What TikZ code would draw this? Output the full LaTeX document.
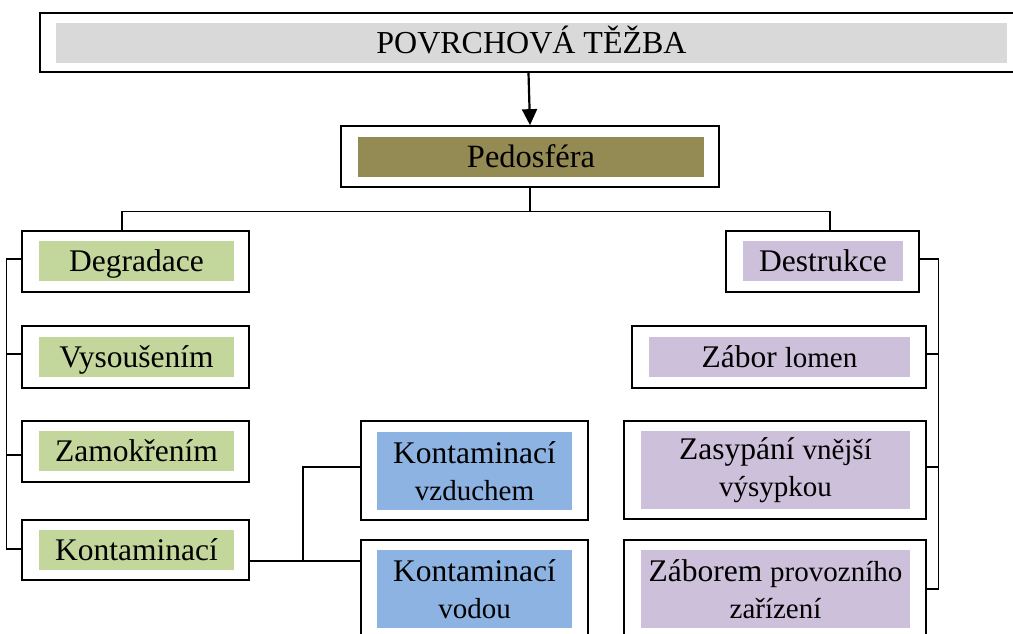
\documentclass[tikz,border=0pt]{standalone}
\usepackage{fontspec}
\setmainfont{Liberation Serif}
\usetikzlibrary{arrows.meta}

\definecolor{titlegray}{HTML}{D9D9D9}
\definecolor{soilolive}{HTML}{948A54}
\definecolor{degreen}{HTML}{C3D69B}
\definecolor{destlilac}{HTML}{CCC0DA}
\definecolor{contblue}{HTML}{8DB3E2}

\newcommand{\bigtxt}{\fontsize{31.5}{37}\selectfont}
\newcommand{\smalltxt}{\fontsize{29}{37}\selectfont}

\tikzset{
  x=1pt, y=-1pt,
  frame/.style={draw=black, line width=1.7pt, fill=white, inner sep=0pt},
  label box/.style={inner sep=0pt, align=center, font=\bigtxt, text=black},
  one line/.style={text height=24pt, text depth=4pt},
  link/.style={draw=black, line width=1.2pt},
}

\begin{document}
\begin{tikzpicture}
\clip (0,0) rectangle (1013,633);
\fill[white] (0,0) rectangle (1013,633);

% title
\node[frame, minimum width=982pt, minimum height=59pt] (top) at (531,42.5) {};
\node[label box, one line, fill=titlegray, minimum width=951pt, minimum height=40pt, font=\fontsize{32}{36}\selectfont] (top-in) at (531.5,43) {POVRCHOVÁ TĚŽBA};

% soil sphere
\node[frame, minimum width=378pt, minimum height=61pt] (ped) at (530,156.5) {};
\node[label box, one line, fill=soilolive, minimum width=346pt, minimum height=40pt, font=\fontsize{32.5}{37}\selectfont] (ped-in) at (531,157) {Pedosféra};

% degradation branch
\node[frame, minimum width=227pt, minimum height=61pt] (deg) at (135.5,261.5) {};
\node[label box, one line, fill=degreen, minimum width=195pt, minimum height=40pt] (deg-in) at (136.5,261) {Degradace};

\node[frame, minimum width=227pt, minimum height=62pt] (vys) at (135.5,357) {};
\node[label box, one line, fill=degreen, minimum width=195pt, minimum height=40pt] (vys-in) at (136.5,357) {Vysoušením};

\node[frame, minimum width=227pt, minimum height=61pt] (zam) at (135.5,451.5) {};
\node[label box, one line, fill=degreen, minimum width=195pt, minimum height=40pt] (zam-in) at (136.5,451) {Zamokřením};

\node[frame, minimum width=227pt, minimum height=60pt] (kon) at (135.5,550) {};
\node[label box, one line, fill=degreen, minimum width=195pt, minimum height=40pt] (kon-in) at (136.5,550) {Kontaminací};

% contamination types
\node[frame, minimum width=227pt, minimum height=99pt] (kvz) at (474.5,470.5) {};
\node[label box, fill=contblue, minimum width=195pt, minimum height=78pt] (kvz-in) at (474.5,471) {Kontaminací\\{\smalltxt vzduchem}};

\node[frame, minimum width=227pt, minimum height=98pt] (kvo) at (474.5,589) {};
\node[label box, fill=contblue, minimum width=195pt, minimum height=78pt] (kvo-in) at (474.5,589) {Kontaminací\\{\smalltxt vodou}};

% destruction branch
\node[frame, minimum width=193pt, minimum height=61pt] (des) at (822.5,261.5) {};
\node[label box, one line, fill=destlilac, minimum width=160pt, minimum height=40pt] (des-in) at (823,261) {Destrukce};

\node[frame, minimum width=294pt, minimum height=62pt] (zab) at (779,357) {};
\node[label box, one line, fill=destlilac, minimum width=261pt, minimum height=40pt] (zab-in) at (779.5,357) {Zábor {\smalltxt lomen}};

\node[frame, minimum width=302pt, minimum height=98pt] (zas) at (775,470) {};
\node[label box, fill=destlilac, minimum width=269pt, minimum height=78pt] (zas-in) at (775.5,470) {Zasypání {\smalltxt vnější}\\{\smalltxt výsypkou}};

\node[frame, minimum width=302pt, minimum height=98pt] (zpz) at (775,589) {};
\node[label box, fill=destlilac, minimum width=269pt, minimum height=78pt] (zpz-in) at (775.5,589) {Záborem {\smalltxt provozního}\\{\smalltxt zařízení}};

% title -> soil sphere
\draw[line width=2.2pt, -{Triangle[length=16pt,width=15pt]}] ([xshift=-2.5pt]top.south) -- (ped.north);

% soil sphere -> both branches
\draw[link] (ped.south) -- ++(0,24) coordinate (bus);
\draw[link] ([xshift=-13.5pt]deg.north) |- (bus) -| ([xshift=7.5pt]des.north);

% left rail
\draw[link] ([yshift=2.5pt]deg.west) -- ++(-15,0) coordinate (lb) |- ([yshift=1pt]kon.west);
\draw[link] ([yshift=3pt]vys.west) -- ++(-15,0);
\draw[link] ([yshift=-3.5pt]zam.west) -- ++(-15,0);

% contamination fork
\path ([yshift=-11pt]kon.east) -- ([yshift=28pt]kvo.west) coordinate[pos=0.482] (kj);
\draw[link] ([yshift=-11pt]kon.east) -- ([yshift=28pt]kvo.west);
\draw[link] ([yshift=3.5pt]kvz.west) -| (kj);

% right rail
\draw[link] ([yshift=2.5pt]des.east) -- ++(19,0) coordinate (rb) |- (zpz.east);
\draw[link] ([yshift=3pt]zab.east) -- ++(12,0);
\draw[link] ([yshift=3pt]zas.east) -- ++(12,0);
\end{tikzpicture}
\end{document}
